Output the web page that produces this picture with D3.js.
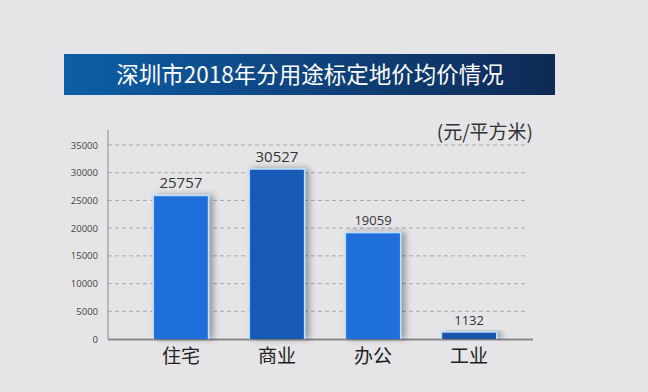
<!DOCTYPE html>
<html><head><meta charset="utf-8">
<script src="https://cdn.jsdelivr.net/npm/d3@7"></script>
<style>html,body{margin:0;padding:0;background:#e5e5e7;}svg{display:block;font-family:"Noto Sans CJK SC","Noto Sans",sans-serif;}</style>
</head><body>
<script>
const categories = ["住宅", "商业", "办公", "工业"];
const values = [25757, 30527, 19059, 1132];
const barColors = ["#1f6fda", "#165ab6", "#1f6fda", "#1a52a8"];
const yTicks = [0, 5000, 10000, 15000, 20000, 25000, 30000, 35000];
const title = "深圳市2018年分用途标定地价均价情况";
const unit = "(元/平方米)";

const W = 648, H = 392;
const svg = d3.select("body").append("svg").attr("width", W).attr("height", H);
const defs = svg.append("defs");
const grad = defs.append("linearGradient").attr("id", "tg").attr("x1", "0").attr("x2", "1").attr("y1", "0").attr("y2", "0");
grad.append("stop").attr("offset", "0%").attr("stop-color", "#0c5fa6");
grad.append("stop").attr("offset", "45%").attr("stop-color", "#0f4682");
grad.append("stop").attr("offset", "100%").attr("stop-color", "#0e2a55");
const f = defs.append("filter").attr("id", "sh").attr("x", "-30%").attr("y", "-10%").attr("width", "160%").attr("height", "120%");
f.append("feDropShadow").attr("dx", 4).attr("dy", 0).attr("stdDeviation", 3).attr("flood-color", "#000").attr("flood-opacity", 0.35);

svg.append("rect").attr("width", W).attr("height", H).attr("fill", "#e5e5e7");

// title banner
svg.append("rect").attr("x", 64).attr("y", 54).attr("width", 491).attr("height", 41).attr("fill", "url(#tg)");
svg.append("text").attr("x", 310).attr("y", 83).attr("text-anchor", "middle")
  .attr("fill", "#ffffff").attr("font-size", 22.5).text(title);

const x = d3.scaleBand().domain(categories).range([106, 544]).paddingInner(0.44).paddingOuter(0.5);
const y = d3.scaleLinear().domain([0, 35000]).range([339, 145]);

// gridlines
svg.append("g").selectAll("line").data(yTicks.filter(t => t > 0)).join("line")
  .attr("x1", 108).attr("x2", 526).attr("y1", d => y(d)).attr("y2", d => y(d))
  .attr("stroke", "#9a9a9a").attr("stroke-width", 0.8).attr("stroke-dasharray", "4,3");

// y axis
const yAxis = d3.axisLeft(y).tickValues(yTicks).tickSize(0).tickPadding(10).tickFormat(d3.format("d"));
const ga = svg.append("g").attr("transform", "translate(108,0)").call(yAxis);
ga.select(".domain").remove();
ga.selectAll("text").attr("font-size", 9.5).attr("fill", "#444").attr("font-family", "Open Sans, sans-serif");
svg.append("line").attr("x1", 108).attr("x2", 108).attr("y1", 130).attr("y2", 339).attr("stroke", "#8a8a8a").attr("stroke-width", 1);
svg.append("line").attr("x1", 108).attr("x2", 533).attr("y1", 339.5).attr("y2", 339.5).attr("stroke", "#8a8a8a").attr("stroke-width", 2);

// bars
const bars = svg.append("g");
bars.selectAll("rect.glow").data(categories).join("rect").attr("class", "glow")
  .attr("x", d => x(d) - 1.5).attr("width", x.bandwidth() + 3)
  .attr("y", (d, i) => y(values[i]) - 1.5).attr("height", (d, i) => 339 - y(values[i]) + 1.5)
  .attr("fill", "#b9dcff").attr("filter", "url(#sh)");
bars.selectAll("rect.bar").data(categories).join("rect").attr("class", "bar")
  .attr("x", d => x(d)).attr("width", x.bandwidth())
  .attr("y", (d, i) => y(values[i])).attr("height", (d, i) => 339 - y(values[i]))
  .attr("fill", (d, i) => barColors[i]);

// value labels
svg.append("g").selectAll("text").data(categories).join("text")
  .attr("x", d => x(d) + x.bandwidth() / 2)
  .attr("y", (d, i) => y(values[i]) - 8)
  .attr("text-anchor", "middle").attr("fill", "#333")
  .attr("font-size", (d, i) => i < 2 ? 15 : 13)
  .attr("font-family", "Open Sans, sans-serif")
  .text((d, i) => values[i]);

// category labels
const xAxis = d3.axisBottom(x).tickSize(0).tickPadding(10);
const gx = svg.append("g").attr("transform", "translate(0,340)").call(xAxis);
gx.select(".domain").remove();
gx.selectAll("text").attr("font-size", 19).attr("fill", "#222").attr("font-family", "Noto Sans CJK SC, sans-serif");

// unit
svg.append("text").attr("x", 533).attr("y", 139).attr("text-anchor", "end")
  .attr("font-size", 19).attr("fill", "#333").text(unit);
</script>
</body></html>
